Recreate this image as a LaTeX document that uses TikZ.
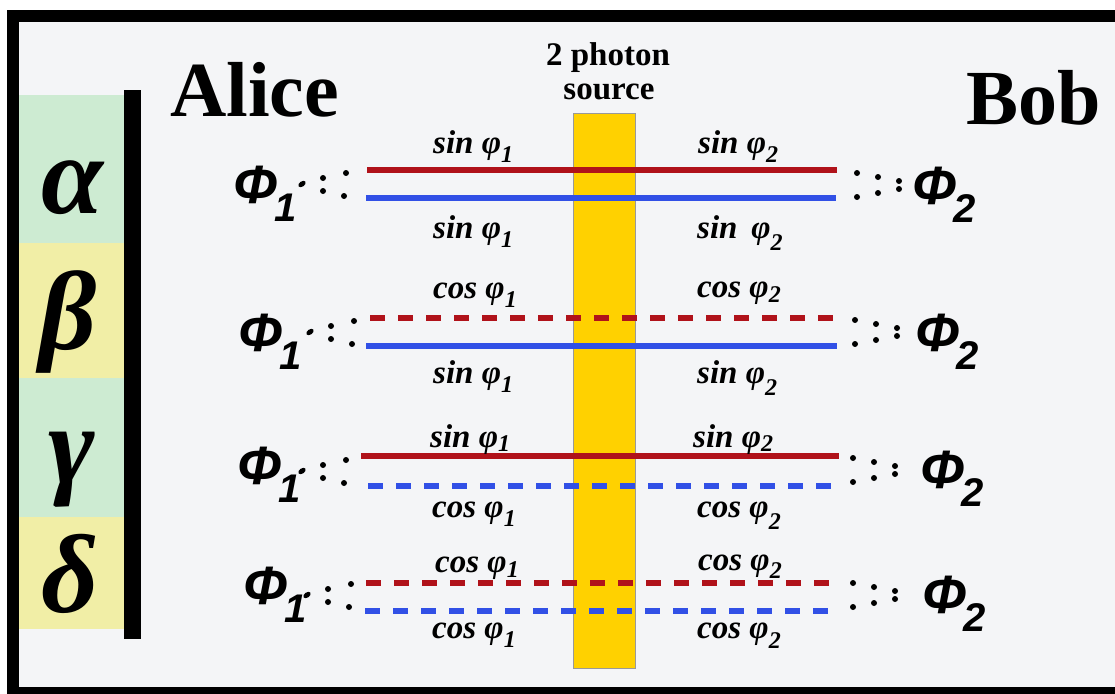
\documentclass[tikz,border=0pt]{standalone}
\usepackage{fontspec}
\setmainfont{Liberation Serif}
\newfontfamily\phifont{Liberation Sans}
\definecolor{bg}{HTML}{F4F5F7}
\definecolor{grn}{HTML}{CDEBD2}
\definecolor{ylw}{HTML}{F1EEA6}
\definecolor{rl}{HTML}{B0121A}
\definecolor{bl}{HTML}{3150E6}
\definecolor{gold}{HTML}{FFD100}
\newcommand{\lbl}[3][-9pt]{#2 φ\raisebox{#1}{\fontsize{24}{24}\selectfont #3}}
\newcommand{\phisub}[1]{Φ\kern-3pt\raisebox{-18pt}{\fontsize{40}{40}\selectfont #1}}
\begin{document}
\begin{tikzpicture}[x=1pt,y=-1pt,
  redline/.style={draw=rl, line width=6pt},
  blueline/.style={draw=bl, line width=6pt},
  dsh/.style={dash pattern=on 15pt off 13pt},
  lab/.style={anchor=base west, inner sep=0pt, font=\fontsize{33}{33}\selectfont\bfseries\itshape},
  phin/.style={anchor=base west, inner sep=0pt, font=\phifont\fontsize{54}{54}\selectfont\bfseries\itshape},
  greek/.style={anchor=base, inner sep=0pt, font=\fontsize{112}{112}\selectfont\bfseries\itshape},
  title/.style={inner sep=0pt, font=\bfseries\fontsize{78}{78}\selectfont, anchor=base west},
  srctxt/.style={inner sep=0pt, font=\bfseries\fontsize{33}{33}\selectfont, anchor=base}]
\useasboundingbox (0,0) rectangle (1115,693);
\fill[white] (0,0) rectangle (1115,693);
\fill[black] (7,10) rectangle (1130,700);
\fill[bg] (19,22) rectangle (1130,687);
% colour column
\fill[grn] (19,95) rectangle (124,243);
\fill[ylw] (19,243) rectangle (124,378);
\fill[grn] (19,378) rectangle (124,517);
\fill[ylw] (19,517) rectangle (124,629);
\fill[black] (124,90) rectangle (141,639);
\node[greek] (ga) at (72,213) {α};
\node[greek] (gb) at (68,349) {β};
\node[greek] (gc) at (72,483) {γ};
\node[greek] (gd) at (70,612) {δ};
% titles
\node[title] (alice) at (170,116) {Alice};
\node[title] (bob) at (966,124) {Bob};
\node[srctxt] (src1) at (608,66) {2 photon};
\node[srctxt] (src2) at (609,99) {source};
% source bar
\node[draw=gray!80, line width=1.2pt, fill=gold, minimum width=62pt, minimum height=555pt, inner sep=0pt, anchor=north west] (bar) at (573,113) {};
% line end coordinates
\coordinate (a1) at (367,170); \coordinate (a2) at (837,170);
\coordinate (a3) at (366,198); \coordinate (a4) at (836,198);
\coordinate (b1) at (370,318); \coordinate (b2) at (838,318);
\coordinate (b3) at (366,346); \coordinate (b4) at (837,346);
\coordinate (c1) at (361,456); \coordinate (c2) at (839,456);
\coordinate (c3) at (368,486); \coordinate (c4) at (836,486);
\coordinate (d1) at (366,583); \coordinate (d2) at (834,583);
\coordinate (d3) at (365,611); \coordinate (d4) at (833,611);
\draw[redline] (a1) -- (a2);
\draw[blueline] (a3) -- (a4);
\draw[redline,dsh] (b1) -- (b2);
\draw[blueline] (b3) -- (b4);
\draw[redline] (c1) -- (c2);
\draw[blueline,dsh] (c3) -- (c4);
\draw[redline,dsh] (d1) -- (d2);
\draw[blueline,dsh] (d3) -- (d4);
% labels
\node[lab] (la1) at (433,153) {\lbl{sin}{1}};
\node[lab] (ra1) at (698,153) {\lbl{sin}{2}};
\node[lab] (la2) at (433,238) {\lbl{sin}{1}};
\node[lab] (ra2) at (697,238) {\lbl[-12pt]{sin\,}{2}};
\node[lab] (lb1) at (433,298) {\lbl{cos}{1}};
\node[lab] (rb1) at (697,297) {\lbl[-5pt]{cos}{2}};
\node[lab] (lb2) at (433,383) {\lbl{sin}{1}};
\node[lab] (rb2) at (697,383) {\lbl[-12pt]{sin}{2}};
\node[lab] (lc1) at (430,447) {\lbl[-4pt]{sin}{1}};
\node[lab] (rc1) at (693,447) {\lbl[-4pt]{sin}{2}};
\node[lab] (lc2) at (432,517) {\lbl{cos}{1}};
\node[lab] (rc2) at (697,517) {\lbl[-12pt]{cos}{2}};
\node[lab] (ld1) at (435,572) {\lbl[-5pt]{cos}{1}};
\node[lab] (rd1) at (698,570) {\lbl[-8pt]{cos}{2}};
\node[lab] (ld2) at (432,638) {\lbl{cos}{1}};
\node[lab] (rd2) at (697,638) {\lbl[-10pt]{cos}{2}};
% Phi nodes
\node[phin] (p1a) at (233,203) {\phisub{1}};
\node[phin] (p1b) at (238,351) {\phisub{1}};
\node[phin] (p1c) at (237,484) {\phisub{1}};
\node[phin] (p1d) at (243,604) {\phisub{1}};
\node[phin] (p2a) at (912,204) {\phisub{2}};
\node[phin] (p2b) at (915,351) {\phisub{2}};
\node[phin] (p2c) at (920,488) {\phisub{2}};
\node[phin] (p2d) at (922,613) {\phisub{2}};
% dots left
\foreach \m/\x in {184/302, 332/310, 471/302, 595/307}{
  \fill[rotate around={35:(\x,\m)}] (\x,\m) ellipse (4.2 and 2.6);
  \fill (\x+21,\m-6) circle (3); \fill (\x+21,\m+7) circle (3);
  \fill (\x+44,\m-11) circle (3); \fill (\x+42,\m+12) circle (3);
}
% dots right
\foreach \m/\x in {185/857, 332/855, 470/853, 595/853}{
  \fill (\x,\m-12) circle (3); \fill (\x,\m+12) circle (3);
  \fill (\x+21,\m-8) circle (3); \fill (\x+21,\m+8) circle (3);
  \fill (\x+42,\m-4) circle (3); \fill (\x+42,\m+4) circle (3);
}
\end{tikzpicture}
\end{document}
